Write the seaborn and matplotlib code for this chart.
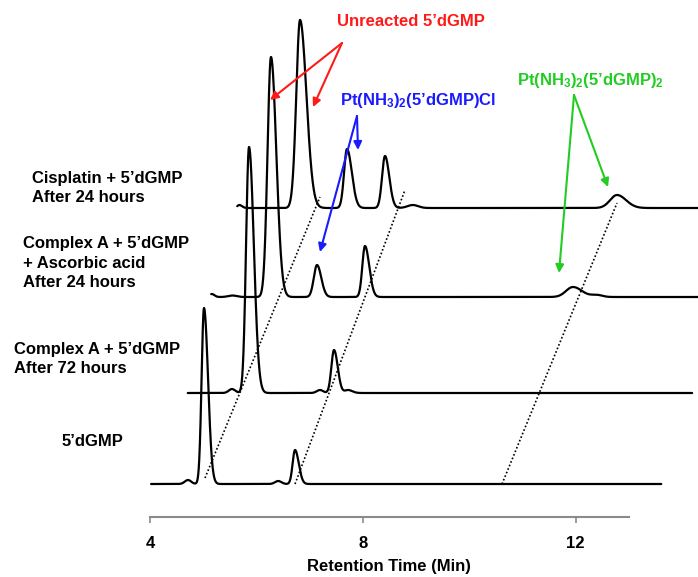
import numpy as np
import pandas as pd
import matplotlib
matplotlib.use("Agg")
import matplotlib.pyplot as plt
import seaborn as sns

sns.set_theme(style="white")
plt.rcParams["font.family"] = ["Liberation Sans", "DejaVu Sans"]
plt.rcParams["font.weight"] = "bold"
plt.rcParams["text.color"] = "black"
plt.rcParams["xtick.labelcolor"] = "black"
plt.rcParams["mathtext.fontset"] = "custom"
plt.rcParams["mathtext.rm"] = "Liberation Sans:bold"
plt.rcParams["mathtext.default"] = "regular"

# ---- chromatogram data (stacked waterfall, bottom to top) ----
sample_labels = [
    "5’dGMP",
    "Complex A + 5’dGMP\nAfter 72 hours",
    "Complex A + 5’dGMP\n+ Ascorbic acid\nAfter 24 hours",
    "Cisplatin + 5’dGMP\nAfter 24 hours",
]
baseline_offsets = [33, 124, 220, 309]      # vertical stacking offset of each trace
trace_start = [4.02, 4.71, 5.15, 5.64]      # min
trace_end = [13.61, 14.19, 14.30, 14.30]    # min

# peaks: (retention time in min, height, left width, right width)
peaks_dgmp = [
    (4.714, 4, 0.06, 0.06),
    (5.015, 176, 0.045, 0.075),
    (6.41, 3, 0.06, 0.06),
    (6.726, 34, 0.045, 0.07),
]
peaks_complex_72h = [
    (5.541, 4, 0.06, 0.06),
    (5.861, 246, 0.055, 0.09),
    (7.195, 3, 0.06, 0.06),
    (7.459, 43, 0.05, 0.07),
    (7.722, 3, 0.06, 0.08),
]
peaks_complex_ascorbic = [
    (5.16, 3, 0.04, 0.05),
    (5.55, 1.5, 0.08, 0.08),
    (6.274, 240, 0.065, 0.10),
    (7.139, 32, 0.06, 0.08),
    (8.041, 51, 0.05, 0.08),
    (11.95, 10, 0.13, 0.17),
    (12.40, 2, 0.10, 0.10),
]
peaks_cisplatin = [
    (5.68, 3, 0.04, 0.05),
    (6.69, 2, 0.05, 0.05),
    (6.82, 188, 0.07, 0.12),
    (7.703, 59, 0.055, 0.09),
    (8.417, 52, 0.055, 0.08),
    (8.94, 3, 0.10, 0.10),
    (12.778, 13, 0.13, 0.17),
]
all_peaks = [peaks_dgmp, peaks_complex_72h, peaks_complex_ascorbic, peaks_cisplatin]

# dotted guide lines joining matching peaks across traces: (x0, y0, x1, y1)
guide_lines = [
    (5.034, 39, 7.195, 320),
    (6.726, 33, 8.793, 327),
    (10.617, 33, 12.778, 314),
]

x_ticks = [4, 8, 12]
x_tick_labels = ["4", "8", "12"]


def trace_signal(t, peaks, base):
    y = np.full_like(t, float(base))
    for c, h, wl, wr in peaks:
        w = np.where(t < c, wl, wr)
        y += h * np.exp(-0.5 * ((t - c) / w) ** 2)
    return y


frames = []
for i, (lab, base, t0, t1, pk) in enumerate(
        zip(sample_labels, baseline_offsets, trace_start, trace_end, all_peaks)):
    t = np.linspace(t0, t1, 3000)
    frames.append(pd.DataFrame({"time": t, "signal": trace_signal(t, pk, base),
                                "sample": i}))
df = pd.concat(frames, ignore_index=True)

# ---- figure ----
W, H = 698, 577
fig = plt.figure(figsize=(W / 100, H / 100), dpi=100)
ax = fig.add_axes([150 / W, 60 / H, 548 / W, 517 / H])

for i in range(len(sample_labels)):
    sns.lineplot(data=df[df["sample"] == i], x="time", y="signal",
                 color="black", linewidth=1.6, estimator=None, sort=False,
                 ax=ax, clip_on=False)

for x0, y0, x1, y1 in guide_lines:
    sns.lineplot(x=[x0, x1], y=[y0, y1], color="black", linewidth=1.2,
                 linestyle=(0, (1, 1.3)), estimator=None, ax=ax)

ax.set_xlim(4, 4 + 548 / 53.2)
ax.set_ylim(0, 517)
ax.set_xlabel("")
ax.set_ylabel("")
ax.set_yticks([])
for s in ["top", "right", "left"]:
    ax.spines[s].set_visible(False)
ax.spines["bottom"].set_bounds(4, 13)
ax.spines["bottom"].set_color("#8a8a8a")
ax.spines["bottom"].set_linewidth(1.5)
ax.set_xticks(x_ticks)
ax.set_xticklabels(x_tick_labels, fontsize=12, fontweight="bold", color="black")
ax.tick_params(axis="x", direction="out", length=4, width=1.2,
               color="#8a8a8a", pad=10, bottom=True)
ax.text(8.5, -50, "Retention Time (Min)", ha="center", va="center",
        fontsize=12, fontweight="bold", color="black", clip_on=False)


def px(xp, yp):
    """pixel position -> data coordinates"""
    return 4 + (xp - 150) / 53.2, 517 - yp


# sample names
label_pos = [(62, 442), (14, 359), (23, 263), (32, 188)]
for lab, (xp, yp) in zip(sample_labels, label_pos):
    x, y = px(xp, yp)
    ax.text(x, y, lab, ha="left", va="center", fontsize=12, color="black",
            fontweight="bold", linespacing=1.34, clip_on=False)

# peak annotations
annotations = [
    ("Unreacted 5’dGMP", "#ff1a1a", (337, 22), (342, 43),
     [(270, 100), (313, 107)]),
    ("Pt(NH$_3$)$_2$(5’dGMP)Cl", "#1a1aff", (340, 100), (357, 116),
     [(358, 150), (320, 252)]),
    ("Pt(NH$_3$)$_2$(5’dGMP)$_2$", "#22cc22", (517, 80), (574, 95),
     [(608, 187), (559, 273)]),
]
for txt, col, tpos, tail, heads in annotations:
    x, y = px(*tpos)
    ax.text(x, y, txt, color=col, ha="left", va="center", fontsize=12,
            fontweight="bold")
    for hx, hy in heads:
        ax.annotate("", xy=px(hx, hy), xytext=px(*tail),
                    arrowprops=dict(arrowstyle="-|>", color=col, lw=1.5,
                                    mutation_scale=12, shrinkA=0, shrinkB=0))

fig.savefig("out.png", dpi=100, facecolor="white")
